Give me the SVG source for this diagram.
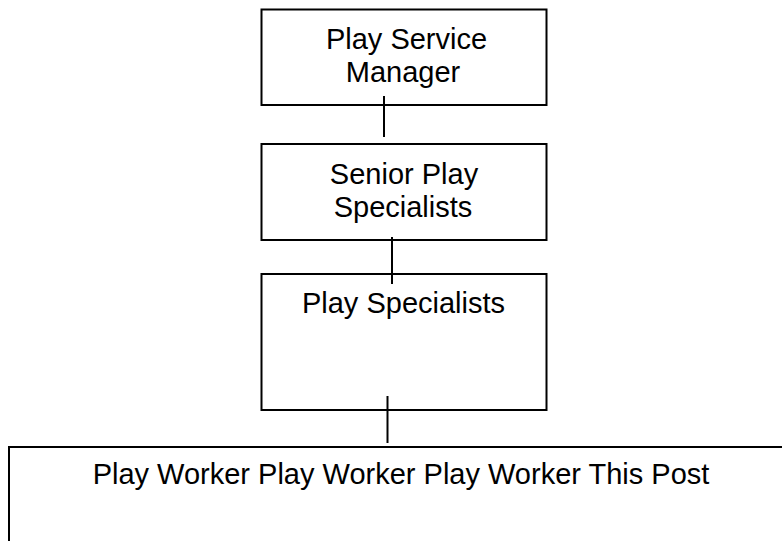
<svg xmlns="http://www.w3.org/2000/svg" width="782" height="541" viewBox="0 0 782 541">
<style>
.box{fill:#fff;stroke:#000;stroke-width:2}
.lbl{font-family:"Liberation Sans",Arial,sans-serif;font-size:29px;fill:#000;text-anchor:middle}
.con{stroke:#000;stroke-width:2;fill:none}
</style>
<rect width="782" height="541" fill="#fff"/>
<g id="node-manager">
<rect class="box" x="261.5" y="9.5" width="285" height="95.5"/>
<text class="lbl" x="406.5" y="48.5">Play Service</text>
<text class="lbl" x="403" y="81.5">Manager</text>
</g>
<g id="node-senior">
<rect class="box" x="261.5" y="144" width="285" height="96"/>
<text class="lbl" x="404" y="183.5">Senior Play</text>
<text class="lbl" x="403" y="216.5">Specialists</text>
</g>
<g id="node-specialists">
<rect class="box" x="261.5" y="274" width="285" height="136"/>
<text class="lbl" x="403.5" y="313">Play Specialists</text>
</g>
<g id="node-workers">
<rect class="box" x="9" y="447" width="800" height="200"/>
<text class="lbl" x="401" y="483.5">Play Worker Play Worker Play Worker This Post</text>
</g>
<g id="connectors">
<line class="con" x1="384" y1="96" x2="384" y2="137"/>
<line class="con" x1="392" y1="237" x2="392" y2="284"/>
<line class="con" x1="387.5" y1="396" x2="387.5" y2="443"/>
</g>
</svg>
